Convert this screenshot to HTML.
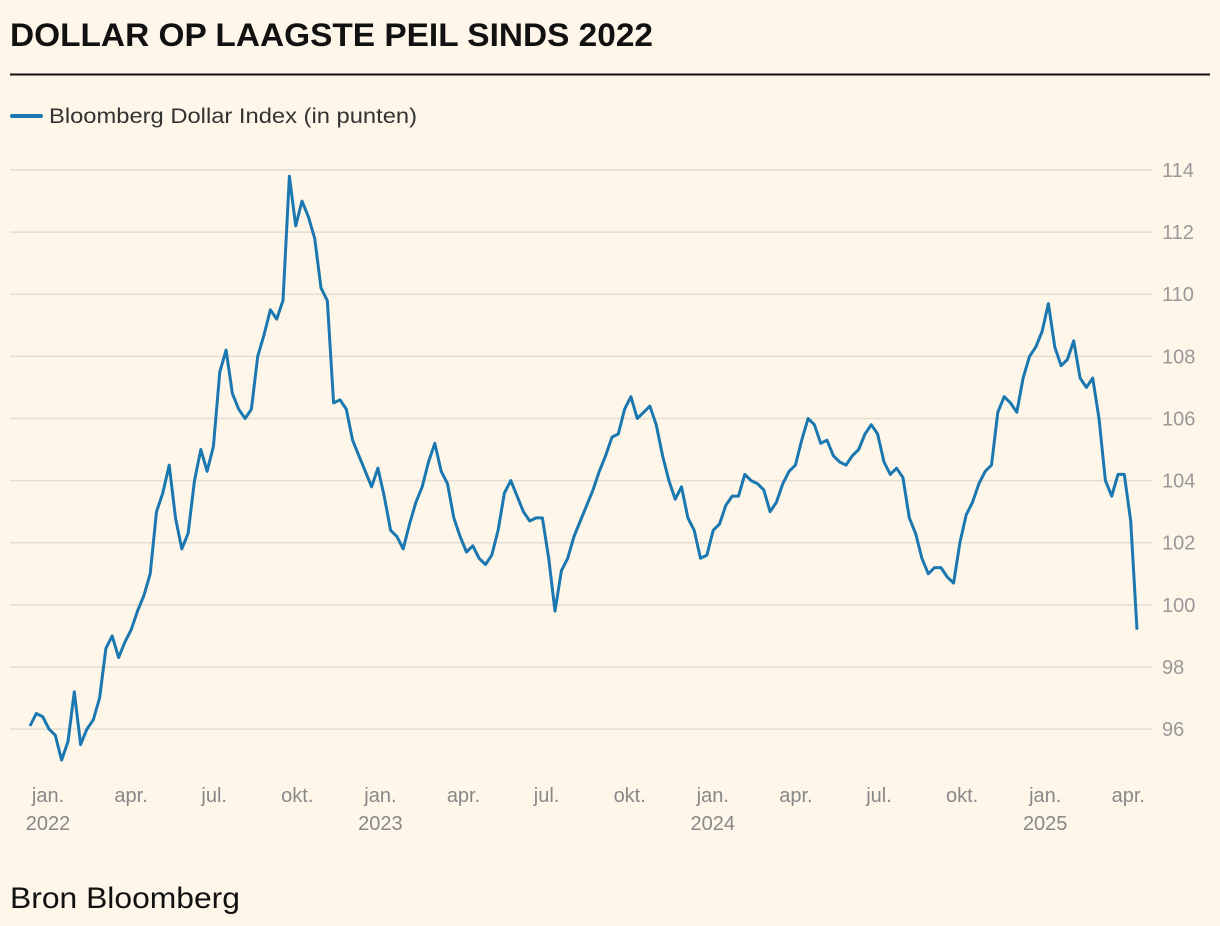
<!DOCTYPE html>
<html><head><meta charset="utf-8"><style>
body{margin:0;background:#fef6e9;width:1220px;height:926px;overflow:hidden;font-family:"Liberation Sans",sans-serif}
</style></head><body>
<svg width="1220" height="926" style="position:absolute;left:0;top:0">
<text x="10" y="46" font-size="32" font-weight="bold" fill="#111" textLength="643" lengthAdjust="spacingAndGlyphs">DOLLAR OP LAAGSTE PEIL SINDS 2022</text>
<line x1="10" y1="74.5" x2="1210" y2="74.5" stroke="#111" stroke-width="2"/>
<g>
<line x1="12" y1="116" x2="41" y2="116" stroke="#1a77b0" stroke-width="4" stroke-linecap="round"/>
<text x="49" y="123" font-size="21" fill="#333" textLength="368" lengthAdjust="spacingAndGlyphs">Bloomberg Dollar Index (in punten)</text>
</g>
<g id="grid"></g>
<g id="ylab"></g>
<g id="xlab"></g>
<path id="line" fill="none" stroke="#1a77b0" stroke-width="3" stroke-linejoin="round"/>
<text x="10" y="908" font-size="30" fill="#111" textLength="230" lengthAdjust="spacingAndGlyphs">Bron Bloomberg</text>
</svg>
<script>
const values=[96.1,96.5,96.4,96.0,95.8,95.0,95.6,97.2,95.5,96.0,96.3,97.0,98.6,99.0,98.3,98.8,99.2,99.8,100.3,101.0,103.0,103.6,104.5,102.8,101.8,102.3,104.0,105.0,104.3,105.1,107.5,108.2,106.8,106.3,106.0,106.3,108.0,108.7,109.5,109.2,109.8,113.8,112.2,113.0,112.5,111.8,110.2,109.8,106.5,106.6,106.3,105.3,104.8,104.3,103.8,104.4,103.5,102.4,102.2,101.8,102.6,103.3,103.8,104.6,105.2,104.3,103.9,102.8,102.2,101.7,101.9,101.5,101.3,101.6,102.4,103.6,104.0,103.5,103.0,102.7,102.8,102.8,101.5,99.8,101.1,101.5,102.2,102.7,103.2,103.7,104.3,104.8,105.4,105.5,106.3,106.7,106.0,106.2,106.4,105.8,104.8,104.0,103.4,103.8,102.8,102.4,101.5,101.6,102.4,102.6,103.2,103.5,103.5,104.2,104.0,103.9,103.7,103.0,103.3,103.9,104.3,104.5,105.3,106.0,105.8,105.2,105.3,104.8,104.6,104.5,104.8,105.0,105.5,105.8,105.5,104.6,104.2,104.4,104.1,102.8,102.3,101.5,101.0,101.2,101.2,100.9,100.7,102.0,102.9,103.3,103.9,104.3,104.5,106.2,106.7,106.5,106.2,107.3,108.0,108.3,108.8,109.7,108.3,107.7,107.9,108.5,107.3,107.0,107.3,106.0,104.0,103.5,104.2,104.2,102.7,99.2];
const yTicks=[96,98,100,102,104,106,108,110,112,114];
const xMonths=["jan.","apr.","jul.","okt.","jan.","apr.","jul.","okt.","jan.","apr.","jul.","okt.","jan.","apr."];
const xYears=["2022","","","","2023","","","","2024","","","","2025",""];
const NS="http://www.w3.org/2000/svg";
function y(v){return 170+(114-v)*31.06;}
function x(i){return 30+i*(1137-30)/(values.length-1);}
function xq(q){return 48+q*83.1;}
const grid=document.getElementById('grid'),ylab=document.getElementById('ylab'),xlab=document.getElementById('xlab');
yTicks.forEach(t=>{
const l=document.createElementNS(NS,'line');


l.setAttribute('x1',10);l.setAttribute('x2',1152);l.setAttribute('y1',y(t));l.setAttribute('y2',y(t));
l.setAttribute('stroke','#e3ddd2');l.setAttribute('stroke-width','1.5');grid.appendChild(l);
const tx=document.createElementNS(NS,'text');


tx.setAttribute('x',1162);tx.setAttribute('y',y(t)+7);tx.setAttribute('font-size','20');tx.setAttribute('fill','#999');
tx.textContent=t;ylab.appendChild(tx);
});
xMonths.forEach((m,q)=>{
const tx=document.createElementNS(NS,'text');


tx.setAttribute('x',xq(q));tx.setAttribute('y',802);tx.setAttribute('font-size','20');tx.setAttribute('fill','#888');tx.setAttribute('text-anchor','middle');
tx.textContent=m;xlab.appendChild(tx);
if(xYears[q]){
const ty=document.createElementNS(NS,'text');


ty.setAttribute('x',xq(q));ty.setAttribute('y',830);ty.setAttribute('font-size','20');ty.setAttribute('fill','#888');ty.setAttribute('text-anchor','middle');
ty.textContent=xYears[q];xlab.appendChild(ty);}
});
document.getElementById('line').setAttribute('d',values.map((v,i)=>(i?'L':'M')+x(i).toFixed(1)+','+y(v).toFixed(1)).join(''));
</script>
</body></html>
